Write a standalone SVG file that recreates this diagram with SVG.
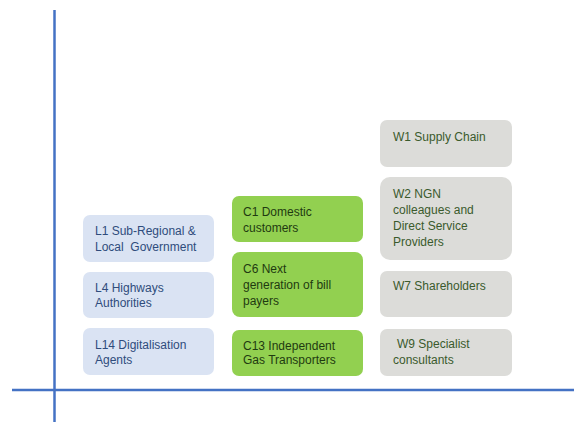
<svg xmlns="http://www.w3.org/2000/svg" width="574" height="423" viewBox="0 0 574 423">
<style>
text{font-family:"Liberation Sans",Arial,sans-serif;font-size:12px;white-space:pre}
.l rect{fill:#DAE3F3}
.l text{fill:#2F4C7C}
.c rect{fill:#92D050}
.c text{fill:#1F3A10}
.w rect{fill:#DCDCD9}
.w text{fill:#3A5A2C}
.ax{stroke:#4472C4;stroke-width:2.5;fill:none}
</style>
<rect width="574" height="423" fill="#fff"/>
<g id="connectors">
<line class="ax" x1="54.5" y1="10" x2="54.5" y2="422"/>
<line class="ax" x1="12" y1="390" x2="574" y2="390"/>
</g>
<g id="L1" class="l"><rect x="83" y="215" width="131" height="47" rx="7"/><text x="95" y="235">L1 Sub-Regional &amp;</text><text x="95" y="251">Local  Government</text></g>
<g id="L4" class="l"><rect x="83" y="272" width="131" height="46" rx="7"/><text x="95" y="292">L4 Highways</text><text x="95" y="307">Authorities</text></g>
<g id="L14" class="l"><rect x="83" y="328" width="131" height="47" rx="7"/><text x="95" y="349">L14 Digitalisation</text><text x="95" y="364">Agents</text></g>
<g id="C1" class="c"><rect x="232" y="196" width="131" height="46" rx="7"/><text x="243" y="216">C1 Domestic</text><text x="243" y="232">customers</text></g>
<g id="C6" class="c"><rect x="232" y="252" width="131" height="65" rx="8"/><text x="243" y="273">C6 Next</text><text x="243" y="289">generation of bill</text><text x="243" y="305">payers</text></g>
<g id="C13" class="c"><rect x="232" y="330" width="131" height="46" rx="7"/><text x="243" y="350">C13 Independent</text><text x="243" y="364">Gas Transporters</text></g>
<g id="W1" class="w"><rect x="380" y="120" width="132" height="47" rx="7"/><text x="393" y="141">W1 Supply Chain</text></g>
<g id="W2" class="w"><rect x="380" y="177" width="132" height="83" rx="10"/><text x="393" y="198">W2 NGN</text><text x="393" y="214">colleagues and</text><text x="393" y="230">Direct Service</text><text x="393" y="246">Providers</text></g>
<g id="W7" class="w"><rect x="380" y="271" width="132" height="46" rx="7"/><text x="393" y="290">W7 Shareholders</text></g>
<g id="W9" class="w"><rect x="380" y="329" width="132" height="47" rx="7"/><text x="397" y="348">W9 Specialist</text><text x="393" y="364">consultants</text></g>
</svg>
